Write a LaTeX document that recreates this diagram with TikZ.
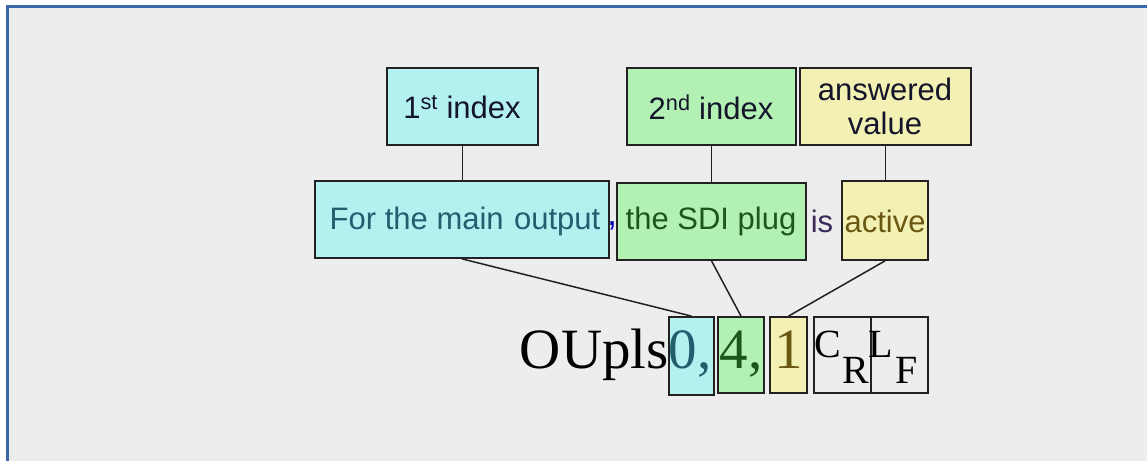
\documentclass[tikz,border=0pt]{standalone}
\usepackage{fontspec}
\setmainfont{Liberation Serif}
\newfontfamily\arialfont{Liberation Sans}
\definecolor{frameblue}{HTML}{3A68A8}
\definecolor{panel}{HTML}{EDEDED}
\definecolor{cyanfill}{HTML}{B3F0F0}
\definecolor{greenfill}{HTML}{B3F0B3}
\definecolor{yellowfill}{HTML}{F2F0B3}
\definecolor{tealtext}{HTML}{1F5F6E}
\definecolor{greentext}{HTML}{1C561C}
\definecolor{olivetext}{HTML}{6A5812}
\definecolor{istext}{HTML}{3A2A5A}
\definecolor{labeltext}{HTML}{14142A}
\definecolor{edge}{HTML}{222222}
\tikzset{
  box/.style={draw=edge, line width=1.8pt, inner sep=0pt, anchor=center},
  lbl/.style={font=\arialfont\fontsize{31}{34}\selectfont, text=labeltext, align=center, inner sep=0pt},
  wrd/.style={font=\arialfont\fontsize{31}{34}\selectfont, inner sep=0pt},
  big/.style={font=\fontsize{57}{60}\selectfont, inner sep=0pt, anchor=base},
  ctl/.style={font=\fontsize{40}{44}\selectfont, inner sep=0pt, anchor=base},
  link/.style={draw=edge, line width=1.5pt}
}
\begin{document}
\begin{tikzpicture}[x=1pt,y=-1pt]
  \useasboundingbox (0,0) rectangle (1147,461);
  \fill[white] (0,0) rectangle (1147,461);
  \fill[panel] (7,6) rectangle (1147,461);
  \draw[frameblue, line width=3pt] (7,461) -- (7,6) -- (1147,6);

  % index / value labels
  \node[box, fill=cyanfill, minimum width=151pt, minimum height=77pt] (idx1) at (462.5,106.5) {};
  \node[lbl] at (462,107) {1\textsuperscript{st} index};
  \node[box, fill=greenfill, minimum width=169pt, minimum height=77pt] (idx2) at (711.5,106.5) {};
  \node[lbl] at (711,107) {2\textsuperscript{nd} index};
  \node[box, fill=yellowfill, minimum width=171pt, minimum height=77pt] (ans) at (885.5,106.5) {};
  \node[lbl] at (885,106) {answered\\value};

  % the sentence
  \node[box, fill=cyanfill, minimum width=294pt, minimum height=77pt] (for) at (462,219.5) {};
  \node[wrd, text=tealtext] at (465,221) {For the main\,\,output};
  \node[wrd, text=blue!70!black, font=\arialfont\fontsize{36}{38}\selectfont] (comma) at (612,226) {,};
  \node[box, fill=greenfill, minimum width=189pt, minimum height=77pt] (sdi) at (711.5,221.5) {};
  \node[wrd, text=greentext] at (711,221) {the SDI plug};
  \node[wrd, text=istext] (is) at (822,221) {is};
  \node[box, fill=yellowfill, minimum width=86pt, minimum height=79pt] (act) at (885,220.5) {};
  \node[wrd, text=olivetext] at (885,221) {active};

  % the command
  \node[box, fill=cyanfill, minimum width=45pt, minimum height=78pt] (b0) at (691.5,356) {};
  \node[box, fill=greenfill, minimum width=46pt, minimum height=76pt] (b4) at (741,355) {};
  \node[box, fill=yellowfill, minimum width=37pt, minimum height=76pt] (b1) at (788.5,355) {};
  \node[box, minimum width=57pt, minimum height=76pt] (bcr) at (842.5,355) {};
  \node[box, minimum width=57pt, minimum height=76pt] (blf) at (899.5,355) {};

  \node[big, anchor=base east] (cmd) at (669,368) {OUpls};
  \node[big, text=tealtext] (t0) at (690,368) {0,};
  \node[big, text=greentext] (t4) at (741,368) {4,};
  \node[big, text=olivetext] (t1) at (788.5,368) {1};
  \node[ctl] (tc) at (828,357) {C};
  \node[ctl] (tr) at (856,383) {R};
  \node[ctl] (tl) at (881,357) {L};
  \node[ctl] (tf) at (907,383) {F};

  % connectors
  \draw[link] (idx1.south) -- (for.north -| idx1.south);
  \draw[link] (idx2.south) -- (sdi.north -| idx2.south);
  \draw[link] (ans.south) -- (act.north -| ans.south);
  \draw[link] (for.south) -- (b0.north);
  \draw[link] (sdi.south) -- (b4.north);
  \draw[link] (act.south) -- (b1.north);
\end{tikzpicture}
\end{document}
